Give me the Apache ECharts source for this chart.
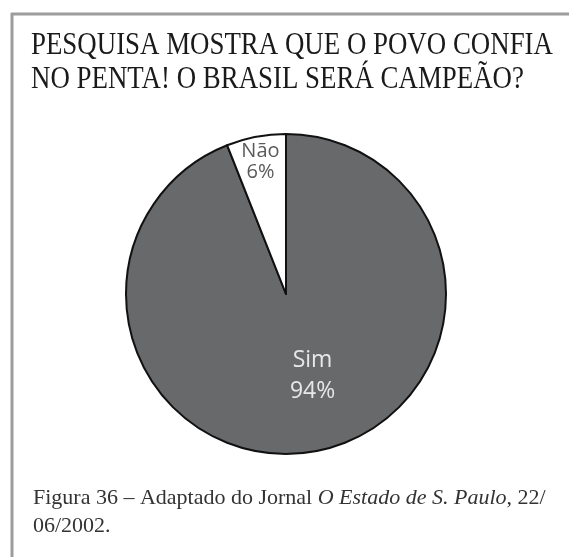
<!DOCTYPE html>
<html>
<head>
<meta charset="utf-8">
<script src="https://cdn.jsdelivr.net/npm/echarts@6/dist/echarts.min.js"></script>
<style>
  html, body { margin: 0; padding: 0; background: #fff; }
  #main { width: 569px; height: 557px; }
</style>
</head>
<body>
<div id="main"></div>
<script>
var categories = ['Sim', 'Não'];
var values = [94, 6];
var titleLines = ['PESQUISA MOSTRA QUE O POVO CONFIA', 'NO PENTA! O BRASIL SERÁ CAMPEÃO?'];

var sliceColors = ['#68696b', '#ffffff'];
var labelStyles = [
    { color: '#e8e8e8', fontSize: 23, lineHeight: 31, offset: [11, 0] },
    { color: '#5a5a5a', fontSize: 20, lineHeight: 21, offset: [-10, -51] }
];

var data = categories.map(function(name, i) {
    return {
        name: name,
        value: values[i],
        itemStyle: { color: sliceColors[i] },
        label: labelStyles[i]
    };
});

var option = {
    backgroundColor: '#ffffff',
    animation: false,
    graphic: [
        // moldura: só as linhas de cima e da esquerda
        { type: 'line', shape: { x1: 11, y1: 14, x2: 569, y2: 14 }, style: { stroke: '#9c9c9c', lineWidth: 3 } },
        { type: 'line', shape: { x1: 12, y1: 13, x2: 12, y2: 557 }, style: { stroke: '#9c9c9c', lineWidth: 3 } },
        {
            type: 'text', x: 31, y: 46, scaleX: 0.84,
            style: { text: titleLines[0], font: '32px "Liberation Serif"', fill: '#1a1a1a', textVerticalAlign: 'middle' }
        },
        {
            type: 'text', x: 31, y: 80, scaleX: 0.84,
            style: { text: titleLines[1], font: '32px "Liberation Serif"', fill: '#1a1a1a', textVerticalAlign: 'middle' }
        },
        {
            type: 'text', x: 33, y: 498,
            style: {
                text: '{n|Figura 36 – Adaptado do Jornal }{i|O Estado de S. Paulo}{n|, 22/}',
                rich: {
                    n: { fontFamily: 'Liberation Serif', fontSize: 22, fill: '#333' },
                    i: { fontFamily: 'Liberation Serif', fontSize: 22, fontStyle: 'italic', fill: '#333' }
                },
                textVerticalAlign: 'middle'
            }
        },
        {
            type: 'text', x: 33, y: 526,
            style: { text: '06/2002.', font: '22px "Liberation Serif"', fill: '#333', textVerticalAlign: 'middle' }
        }
    ],
    series: [{
        type: 'pie',
        center: [286, 294],
        radius: 160,
        startAngle: 90,
        clockwise: true,
        silent: true,
        itemStyle: { borderColor: '#111', borderWidth: 2 },
        label: {
            show: true,
            position: 'inside',
            fontFamily: 'Open Sans',
            formatter: '{b}\n{c}%'
        },
        labelLine: { show: false },
        emphasis: { disabled: true },
        data: data
    }]
};

var myChart = echarts.init(document.getElementById('main'));
myChart.setOption(option);
</script>
</body>
</html>
